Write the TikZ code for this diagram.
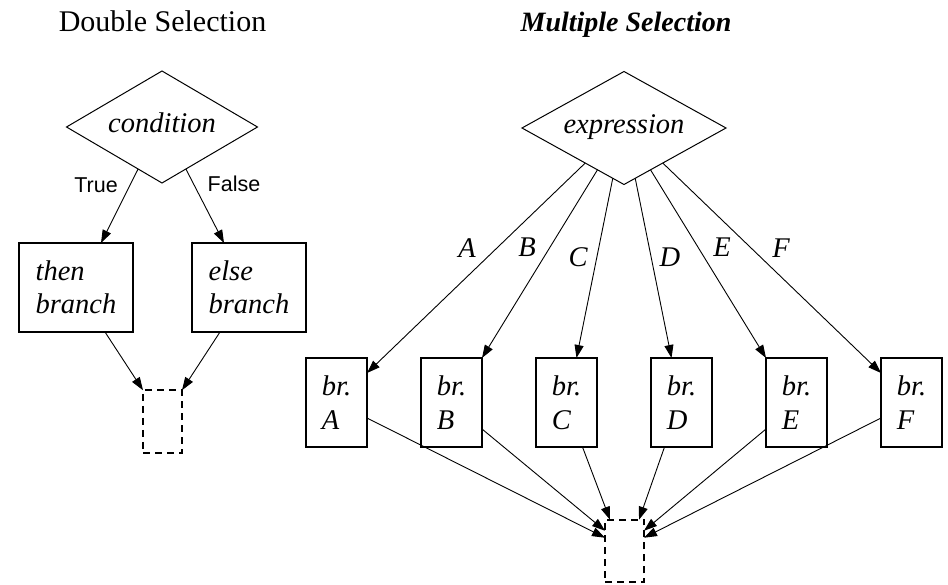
\documentclass[tikz,border=0pt]{standalone}
\usepackage{fontspec}
\setmainfont{Liberation Serif}
\setsansfont{Liberation Sans}
\usetikzlibrary{shapes.geometric,arrows.meta,calc}
\begin{document}
\begin{tikzpicture}[x=1pt,y=-1pt,
  lbl/.style={font=\fontsize{28.5}{33.5}\selectfont\itshape},
  dia/.style={shape=diamond, draw, line width=1pt, inner sep=0pt, outer sep=0pt,
    aspect=1.7, text height=20pt, text depth=8pt, lbl},
  boxnode/.style={draw, line width=1.6pt, inner sep=0pt, outer sep=0pt, align=left,
    minimum height=89pt, lbl},
  joinbox/.style={draw, dash pattern=on 7pt off 5pt, line width=1.6pt, inner sep=0pt,
    outer sep=0pt, minimum width=39pt, minimum height=62.5pt},
  arr/.style={-{Triangle[length=13pt,width=9pt]}, line width=0.9pt},
  tf/.style={font=\fontsize{21.5}{25}\selectfont\sffamily, anchor=base},
  letter/.style={lbl, anchor=base},
  title/.style={anchor=base}
]
\useasboundingbox (0,0) rectangle (948,585);

% titles
\node[title, font=\fontsize{30}{34}\selectfont] (t1) at (162.5,31.5) {Double Selection};
\node[title, font=\fontsize{28}{32}\selectfont\bfseries\itshape] (t2) at (626,31.5) {Multiple Selection};

% ---------------- Double selection ----------------
\node[dia, minimum width=191pt, minimum height=112pt] (cond) at (162,127) {condition};
\node[boxnode, minimum width=114pt] (then) at (76,287.5) {then\\branch};
\node[boxnode, minimum width=114pt] (else) at (249,287.5) {else\\branch};
\node[joinbox] (j1) at (162.5,421.5) {};

\draw[arr] ($(cond.south)!0.25!(cond.west)$) -- ($(then.north)+(25,0)$);
\draw[arr] ($(cond.south)!0.25!(cond.east)$) -- ($(else.north)+(-25,0)$);
\node[tf] (true) at (96,193) {True};
\node[tf] (false) at (234,192) {False};

\draw[arr] ($(then.south)+(29,0)$) -- (j1.north west);
\draw[arr] ($(else.south)+(-29,0)$) -- (j1.north east);

% ---------------- Multiple selection ----------------
\node[dia, minimum width=204pt, minimum height=113pt] (expr) at (624,128) {expression};

\node[boxnode, minimum width=61pt] (bA) at (336.5,402.5) {br.\\A};
\node[boxnode, minimum width=61pt] (bB) at (451.5,402.5) {br.\\B};
\node[boxnode, minimum width=61pt] (bC) at (566.5,402.5) {br.\\C};
\node[boxnode, minimum width=61pt] (bD) at (681.5,402.5) {br.\\D};
\node[boxnode, minimum width=61pt] (bE) at (796.5,402.5) {br.\\E};
\node[boxnode, minimum width=61pt] (bF) at (911.5,402.5) {br.\\F};
\node[joinbox] (j2) at (624.5,551) {};

\draw[arr] ($(expr.south)!0.38!(expr.west)$) -- ($(bA.north east)+(0,15)$);
\draw[arr] ($(expr.south)!0.26!(expr.west)$) -- (bB.north east);
\draw[arr] ($(expr.south)!0.11!(expr.west)$) -- ($(bC.north)+(10,0)$);
\draw[arr] ($(expr.south)!0.11!(expr.east)$) -- ($(bD.north)+(-10,0)$);
\draw[arr] ($(expr.south)!0.26!(expr.east)$) -- (bE.north west);
\draw[arr] ($(expr.south)!0.38!(expr.east)$) -- ($(bF.north west)+(0,15)$);

\node[letter] (lA) at (467,258) {A};
\node[letter] (lB) at (527,257) {B};
\node[letter] (lC) at (578,266.5) {C};
\node[letter] (lD) at (670,266.5) {D};
\node[letter] (lE) at (722,256.5) {E};
\node[letter] (lF) at (781,258) {F};

\draw[arr] ($(bA.north east)+(0,60)$) -- ($(j2.north west)+(0,18)$);
\draw[arr] ($(bB.north east)+(0,71)$) -- ($(j2.north west)+(0,11)$);
\draw[arr] ($(bC.south)+(16,0)$) -- ($(j2.north west)+(5,0)$);
\draw[arr] ($(bD.south)+(-17,0)$) -- ($(j2.north east)+(-5,0)$);
\draw[arr] ($(bE.north west)+(0,71)$) -- ($(j2.north east)+(0,11)$);
\draw[arr] ($(bF.north west)+(0,60)$) -- ($(j2.north east)+(0,18)$);
\end{tikzpicture}
\end{document}
